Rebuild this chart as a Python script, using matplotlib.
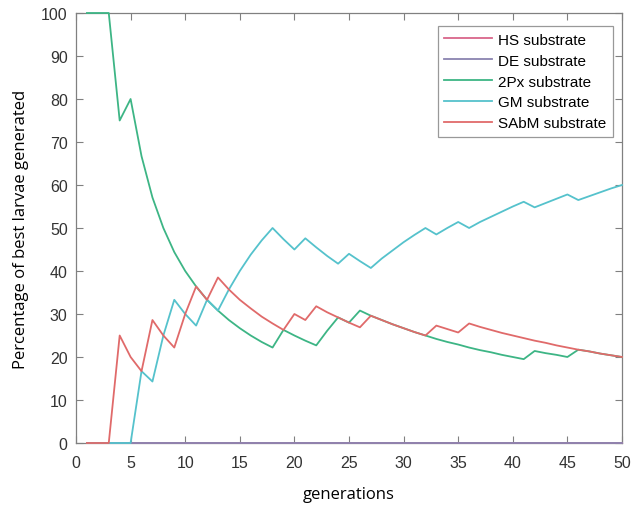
import matplotlib
matplotlib.use('Agg')
import matplotlib.pyplot as plt

# generation index and share (%) of best larvae for each substrate
generations = list(range(1, 51))

hs_substrate = [0] * 50
de_substrate = [0] * 50

px2_substrate = [100, 100, 100, 75, 80, 66.7, 57.1, 50, 44.4, 40,
                 36.4, 33.3, 30.8, 28.6, 26.7, 25, 23.5, 22.2, 26.3, 25,
                 23.8, 22.7, 26.1, 29.2, 28, 30.8, 29.6, 28.6, 27.6, 26.7,
                 25.8, 25, 24.2, 23.5, 22.9, 22.2, 21.6, 21.1, 20.5, 20,
                 19.5, 21.4, 20.9, 20.5, 20, 21.7, 21.3, 20.8, 20.4, 20]

gm_substrate = [0, 0, 0, 0, 0, 16.7, 14.3, 25, 33.3, 30,
                27.3, 33.3, 30.8, 35.7, 40, 43.8, 47.1, 50, 47.4, 45,
                47.6, 45.5, 43.5, 41.7, 44, 42.3, 40.7, 42.9, 44.8, 46.7,
                48.4, 50, 48.5, 50, 51.4, 50, 51.4, 52.6, 53.8, 55,
                56.1, 54.8, 55.8, 56.8, 57.8, 56.5, 57.4, 58.3, 59.2, 60]

sabm_substrate = [0, 0, 0, 25, 20, 16.7, 28.6, 25, 22.2, 30,
                  36.4, 33.3, 38.5, 35.7, 33.3, 31.3, 29.4, 27.8, 26.3, 30,
                  28.6, 31.8, 30.4, 29.2, 28, 26.9, 29.6, 28.6, 27.6, 26.7,
                  25.8, 25, 27.3, 26.5, 25.7, 27.8, 27, 26.3, 25.6, 25,
                  24.4, 23.8, 23.3, 22.7, 22.2, 21.7, 21.3, 20.8, 20.4, 20]

series = [
    ('HS substrate', hs_substrate, '#d9668a'),
    ('DE substrate', de_substrate, '#8a84b0'),
    ('2Px substrate', px2_substrate, '#3db585'),
    ('GM substrate', gm_substrate, '#55c2cc'),
    ('SAbM substrate', sabm_substrate, '#e06a6a'),
]

plt.rcParams['font.family'] = ['Liberation Sans', 'DejaVu Sans']

fig = plt.figure(figsize=(6.33, 5.10), dpi=100)
ax = fig.add_axes([76 / 633, 66 / 510, 546 / 633, 430 / 510])

# lines sit on top of the box so the 0 and 100 runs stay visible
for name, vals, col in series:
    ax.plot(generations, vals, color=col, lw=1.3, label=name, clip_on=False, zorder=3)

ax.set_xlim(0, 50)
ax.set_ylim(0, 100)
ax.set_xticks(range(0, 51, 5))
ax.set_yticks(range(0, 101, 10))
ax.tick_params(direction='in', length=5, width=0.8, color='#808080',
               labelsize=11.5, labelcolor='#333333', top=True, right=True)
ax.tick_params(axis='x', pad=9)
ax.tick_params(axis='y', pad=6)
for sp in ax.spines.values():
    sp.set_color('#808080')
    sp.set_linewidth(0.9)

ax.set_xlabel('generations', family=['Open Sans', 'DejaVu Sans'], fontsize=12, labelpad=11)
ax.set_ylabel('Percentage of best larvae generated', family=['Open Sans', 'DejaVu Sans'],
              fontsize=12, labelpad=9)

leg = ax.legend(loc='upper right', bbox_to_anchor=(0.9835, 0.97), fontsize=11,
                frameon=True, fancybox=False, handlelength=3.1, handletextpad=0.4,
                labelspacing=0.45, borderpad=0.45, borderaxespad=0)
leg.get_frame().set_edgecolor('#808080')
leg.get_frame().set_linewidth(0.9)

fig.savefig('out.png', dpi=100)
